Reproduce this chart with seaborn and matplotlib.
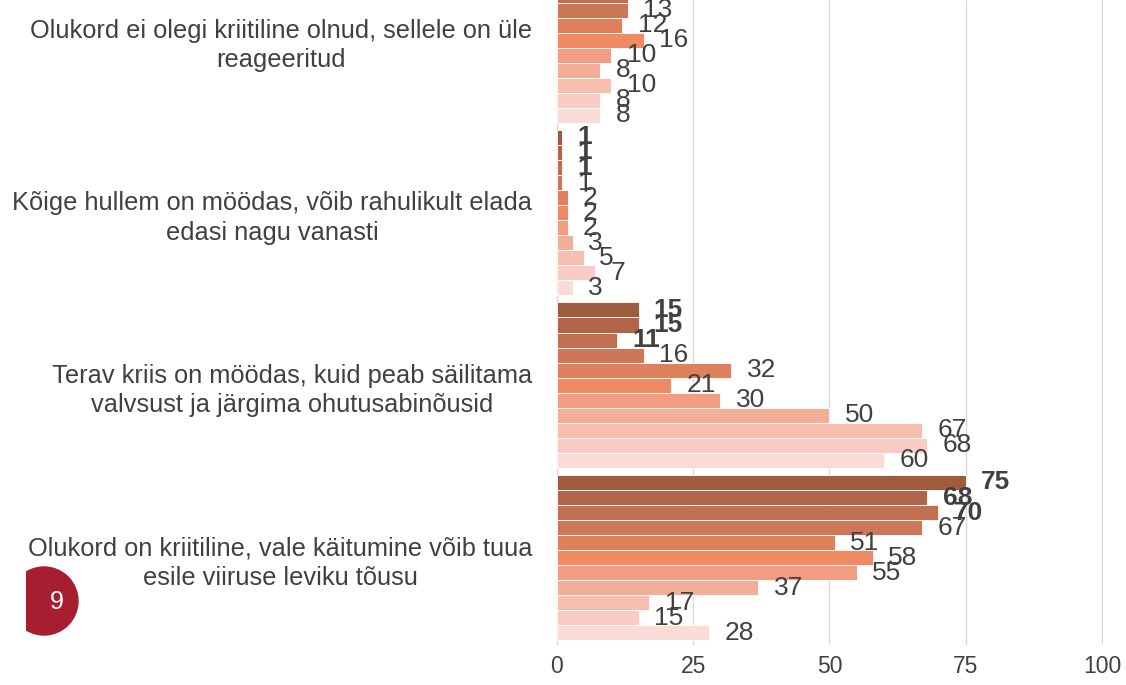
import matplotlib
matplotlib.use("Agg")
import matplotlib.pyplot as plt
import seaborn as sns
import pandas as pd
from matplotlib.patches import Circle

# ---------------- data ----------------
categories = [
    "Olukord ei olegi kriitiline olnud, sellele on üle\nreageeritud",
    "Kõige hullem on möödas, võib rahulikult elada\nedasi nagu vanasti",
    "Terav kriis on möödas, kuid peab säilitama\nvalvsust ja järgima ohutusabinõusid",
    "Olukord on kriitiline, vale käitumine võib tuua\nesile viiruse leviku tõusu",
]
series = [f"Laine {i}" for i in range(1, 12)]
values_overreacted = [14, 14, 13, 13, 12, 16, 10, 8, 10, 8, 8]
values_worst_over = [1, 1, 1, 1, 2, 2, 2, 3, 5, 7, 3]
values_acute_over = [15, 15, 11, 16, 32, 21, 30, 50, 67, 68, 60]
values_critical = [75, 68, 70, 67, 51, 58, 55, 37, 17, 15, 28]
bold_series = series[:3]

palette = ["#9E5B3E", "#B0654A", "#C06F50", "#CD7758", "#DF805C", "#F08A62",
           "#F29D82", "#F3AE98", "#F6BFAF", "#F8CCC2", "#F9DCD5"]

all_values = [values_overreacted, values_worst_over, values_acute_over, values_critical]
rows = []
for cat, vals in zip(categories, all_values):
    for s, v in zip(series, vals):
        rows.append({"category": cat, "series": s, "value": v})
df = pd.DataFrame(rows)

# ---------------- style ----------------
sns.set_style("white")
plt.rcParams["font.family"] = ["Liberation Sans", "DejaVu Sans"]
TXT = "#404040"

W, H = 1126, 685
fig = plt.figure(figsize=(W / 100, H / 100), dpi=100)
ax = fig.add_axes([556 / W, 1 - 645 / H, (1102.7 - 556) / W, 645 / H])

sns.barplot(data=df, y="category", x="value", hue="series", order=categories,
            hue_order=series, orient="h", palette=palette, saturation=1,
            width=0.957, dodge=True, legend=False, ax=ax,
            edgecolor="white", linewidth=0.6, errorbar=None)

for i, cont in enumerate(ax.containers):
    ax.bar_label(cont, fmt="%g", padding=11, fontsize=19, color=TXT,
                 fontweight="bold" if series[i] in bold_series else "normal")

ax.set_xlim(-0.15, 100.15)
ax.set_ylim(3.507, -0.232)
ax.set_xticks([0, 25, 50, 75, 100])
ax.set_axisbelow(True)
ax.xaxis.grid(True, color="#D9D9D9", linewidth=1)
ax.yaxis.grid(False)
for sp in ax.spines.values():
    sp.set_visible(False)
ax.set_xlabel("")
ax.set_ylabel("")
ax.tick_params(axis="x", length=0, pad=7, labelsize=16.5, labelcolor=TXT)
ax.tick_params(axis="y", length=0, pad=17, labelsize=18.3, labelcolor=TXT)
ax.set_yticks(range(len(categories)))
ax.set_yticklabels(categories)
for t in ax.get_yticklabels():
    t.set_multialignment("center")
    t.set_horizontalalignment("right")
    t.set_linespacing(1.3)

# page badge
bax = fig.add_axes([26 / W, 1 - 640 / H, 54 / W, 80 / H])
bax.set_xlim(26, 80)
bax.set_ylim(640, 560)
bax.axis("off")
bax.add_patch(Circle((44, 601), 34, color="#A61E2F"))
bax.text(57, 602, "9", color="white", ha="center", va="center", fontsize=18)

fig.savefig("out.png", dpi=100)
